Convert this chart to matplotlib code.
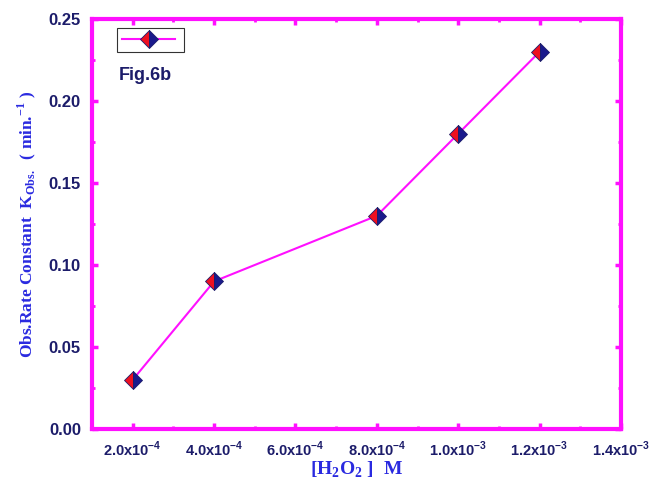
import matplotlib.pyplot as plt
from matplotlib.ticker import MultipleLocator, FixedLocator, FormatStrFormatter

conc = [2.0e-4, 4.0e-4, 8.0e-4, 1.0e-3, 1.2e-3]
k_obs = [0.03, 0.09, 0.13, 0.18, 0.23]

xticks = [2e-4, 4e-4, 6e-4, 8e-4, 1.0e-3, 1.2e-3, 1.4e-3]
xticklabels = [r'2.0x10$^{\mathbf{-4}}$', r'4.0x10$^{\mathbf{-4}}$', r'6.0x10$^{\mathbf{-4}}$',
               r'8.0x10$^{\mathbf{-4}}$', r'1.0x10$^{\mathbf{-3}}$', r'1.2x10$^{\mathbf{-3}}$',
               r'1.4x10$^{\mathbf{-3}}$']

magenta = '#ff10ff'
navy = '#1c1c6a'
blue = '#2a2ae0'

plt.rcParams['mathtext.fontset'] = 'custom'
plt.rcParams['mathtext.bf'] = 'Liberation Sans:bold'

fig = plt.figure(figsize=(6.55, 4.79), dpi=100)
ax = fig.add_axes([0.1405, 0.1044, 0.8075, 0.856])

ax.plot(conc, k_obs, color=magenta, lw=1.5, marker='D', markersize=9,
        fillstyle='left', markerfacecolor='#ee1020', markerfacecoloralt='#1a1a8c',
        markeredgecolor=navy, markeredgewidth=0.6, label=' ')

ax.set_xlim(1e-4, 1.4e-3)
ax.set_ylim(0, 0.25)
ax.xaxis.set_major_locator(FixedLocator(xticks))
ax.xaxis.set_minor_locator(MultipleLocator(1e-4))
ax.yaxis.set_major_locator(MultipleLocator(0.05))
ax.yaxis.set_minor_locator(MultipleLocator(0.025))
ax.set_xticklabels(xticklabels)
ax.yaxis.set_major_formatter(FormatStrFormatter('%.2f'))

for s in ax.spines.values():
    s.set_color(magenta)
    s.set_linewidth(3)

ax.tick_params(which='both', direction='in', top=True, right=True, color=magenta,
               labelcolor=navy)
ax.tick_params(axis='x', labelsize=10.5)
ax.tick_params(axis='y', labelsize=12)
ax.tick_params(which='major', length=4, width=2.5, pad=8)
ax.tick_params(which='minor', length=2.5, width=2)
for lab in ax.get_xticklabels() + ax.get_yticklabels():
    lab.set_fontfamily('Liberation Sans')
    lab.set_fontweight('bold')

ax.set_xlabel(r'[H$_\mathregular{2}$O$_\mathregular{2}$ ]  M', family='Liberation Serif',
              fontweight='bold', color=blue, fontsize=14, labelpad=0)
ax.set_ylabel(r'Obs.Rate Constant  K$_\mathregular{Obs.}$  ( min.$^\mathregular{-1}$ )',
              family='Liberation Serif', fontweight='bold', color=blue, fontsize=12.5, labelpad=8)

leg = ax.legend(loc='upper left', bbox_to_anchor=(0.048, 0.978), handlelength=3.8,
                frameon=True, fancybox=False, edgecolor='black', borderpad=0.35,
                handletextpad=0, borderaxespad=0)
leg.get_frame().set_linewidth(0.8)
ax.text(0.05, 0.85, 'Fig.6b', transform=ax.transAxes, family='Liberation Sans',
        fontweight='bold', color=navy, fontsize=13)

fig.savefig('out.png', dpi=100)
